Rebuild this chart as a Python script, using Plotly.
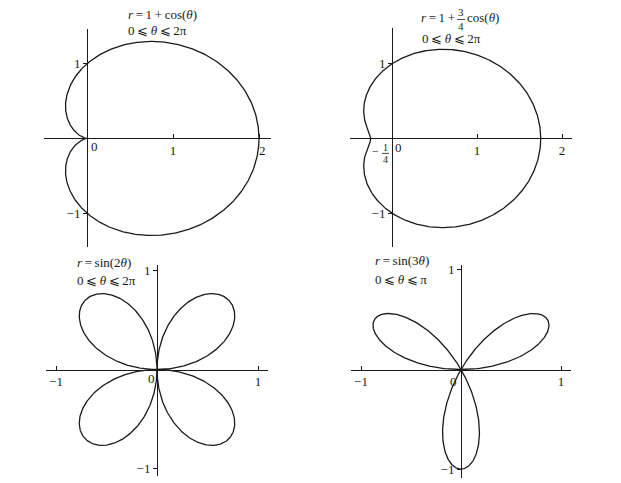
import numpy as np
import plotly.graph_objects as go

W, H = 621, 483
OFF = 8  # page body margin offset in pixels

# ---- data (polar curves as stated in the chart) ----
limacon_a = [1.0, 1.0]          # r = a + b*cos(theta)
limacon_b = [1.0, 0.75]
rose_k = [2, 3]                 # r = sin(k*theta)
theta_end = [2 * np.pi, 2 * np.pi, 2 * np.pi, np.pi]
n_pts = 1201

x_tickvals = [[1, 2], [1, 2], [-1, 1], [-1, 1]]
x_ticktext = [["1", "\u20022"], ["1", "2"], ["−1", "1"], ["−1", "1"]]
y_tickvals = [[-1, 1], [-1, 1], [-1, 1], [-1, 1]]
y_ticktext = [["−1", "1"], ["−1", "1"], ["−1", "1"], ["−1", "1"]]

# ---- panel geometry in pixels: origin, scale, axis extents ----
panels = [
    dict(ox=87, oy=137, sx=86, sy=75, x0=44, x1=271, y0=27, y1=246),
    dict(ox=392, oy=137, sx=85, sy=75, x0=350, x1=572, y0=26, y1=246),
    dict(ox=157, oy=369, sx=101, sy=99, x0=46, x1=268, y0=264, y1=476),
    dict(ox=461, oy=369, sx=100, sy=100, x0=351, x1=571, y0=264, y1=478),
]


def fx(px):
    return (px - OFF) / W


def fy(py):
    return 1 - (py - OFF) / H


curves = []
for i in range(4):
    th = np.linspace(0, theta_end[i], n_pts)
    if i < 2:
        r = limacon_a[i] + limacon_b[i] * np.cos(th)
    else:
        r = np.sin(rose_k[i - 2] * th)
    curves.append((r * np.cos(th), r * np.sin(th)))

SERIF = "Liberation Serif"
INK = "#1a1a1a"
fig = go.Figure()
layout = dict(
    width=W, height=H, margin=dict(l=0, r=0, t=0, b=0),
    paper_bgcolor="white", plot_bgcolor="rgba(0,0,0,0)",
    showlegend=False, font=dict(family=SERIF, size=13, color=INK),
)

for i, p in enumerate(panels):
    sfx = "" if i == 0 else str(i + 1)
    xs, ys = curves[i]
    fig.add_trace(go.Scatter(x=xs, y=ys, mode="lines",
                             line=dict(color=INK, width=1.3),
                             xaxis="x" + sfx, yaxis="y" + sfx,
                             hoverinfo="skip", cliponaxis=False))
    layout["xaxis" + sfx] = dict(
        domain=[fx(p["x0"]), fx(p["x1"])],
        range=[(p["x0"] - p["ox"]) / p["sx"], (p["x1"] - p["ox"]) / p["sx"]],
        anchor="free", position=fy(p["oy"]),
        showline=True, linecolor=INK, linewidth=1,
        ticks="inside", ticklen=4, tickcolor=INK, tickwidth=1,
        tickvals=x_tickvals[i], ticktext=x_ticktext[i],
        tickfont=dict(family=SERIF, size=13, color=INK),
        showgrid=False, zeroline=False,
    )
    layout["yaxis" + sfx] = dict(
        domain=[fy(p["y1"]), fy(p["y0"])],
        range=[(p["oy"] - p["y1"]) / p["sy"], (p["oy"] - p["y0"]) / p["sy"]],
        anchor="free", position=fx(p["ox"]),
        showline=True, linecolor=INK, linewidth=1,
        ticks="outside", ticklen=4, tickcolor=INK, tickwidth=1,
        tickvals=y_tickvals[i], ticktext=y_ticktext[i],
        tickfont=dict(family=SERIF, size=13, color=INK),
        showgrid=False, zeroline=False,
    )

fig.update_layout(**layout)


def txt(px, py, s, size=13, xanchor="left"):
    fig.add_annotation(x=fx(px), y=fy(py), xref="paper", yref="paper",
                       text=s, showarrow=False, xanchor=xanchor, yanchor="middle",
                       font=dict(family=SERIF, size=size, color=INK))


def bar(px0, px1, py):
    fig.add_shape(type="line", xref="paper", yref="paper",
                  x0=fx(px0), x1=fx(px1), y0=fy(py), y1=fy(py),
                  line=dict(color=INK, width=0.8))


T = "\u2009"
# titles
txt(126, 13, f"<i>r</i>{T}={T}1{T}+{T}cos(<i>θ</i>)")
txt(126, 29, f"0{T}⩽{T}<i>θ</i>{T}⩽{T}2π")

txt(457, 16, f"<i>r</i>{T}={T}1{T}+", xanchor="right")
txt(461, 10, "3", size=11, xanchor="center")
bar(457, 465, 17.5)
txt(461, 24.5, "4", size=11, xanchor="center")
txt(465, 16, "cos(<i>θ</i>)")
txt(420, 36.5, f"0{T}⩽{T}<i>θ</i>{T}⩽{T}2π")

txt(75, 262, f"<i>r</i>{T}={T}sin(2<i>θ</i>)")
txt(75, 280, f"0{T}⩽{T}<i>θ</i>{T}⩽{T}2π")

txt(373, 260, f"<i>r</i>{T}={T}sin(3<i>θ</i>)")
txt(373, 279, f"0{T}⩽{T}<i>θ</i>{T}⩽{T}π")

# origin labels
txt(94, 145, "0", xanchor="center")
txt(398, 146, "0", xanchor="center")
txt(151, 378, "0", xanchor="center")
txt(453, 381, "0", xanchor="center")

# -1/4 label on the second panel
txt(375, 150, "−", size=12, xanchor="center")
txt(385, 146.5, "1", size=10, xanchor="center")
bar(382, 389, 152)
txt(385, 158.5, "4", size=10, xanchor="center")

fig.write_html("out.html")
